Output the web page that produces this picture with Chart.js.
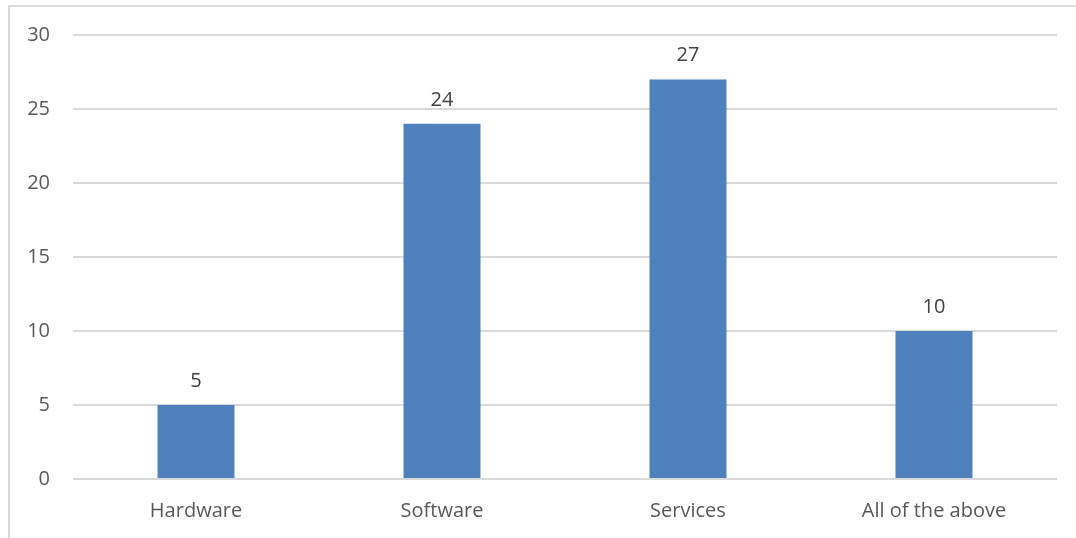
<!DOCTYPE html>
<html>
<head>
<meta charset="utf-8">
<script src="https://cdn.jsdelivr.net/npm/chart.js@4"></script>
<style>
  html, body { margin: 0; padding: 0; background: #fff; overflow: hidden; }
  #wrap { position: relative; width: 1076px; height: 538px; }
  #frame { position: absolute; left: 8px; top: 5px; width: 1200px; height: 700px; border: 2px solid #d9d9d9; box-sizing: border-box; pointer-events: none; }
</style>
</head>
<body>
<div id="wrap">
  <div id="frame"></div>
  <canvas id="myChart" width="1076" height="538"></canvas>
</div>
<script>
let categories = ['Hardware', 'Software', 'Services', 'All of the above']
let counts = [5, 24, 27, 10]
let yTicks = [0, 5, 10, 15, 20, 25, 30]

let textColor = '#595959'
let fontFamily = "'Open Sans', 'Noto Sans', sans-serif"

// writes each bar's value just above it
let valueLabels = {
  id: 'valueLabels',
  afterDatasetsDraw(chart) {
    let ctx = chart.ctx
    ctx.save()
    ctx.fillStyle = '#404040'
    ctx.font = '20px ' + fontFamily
    ctx.textAlign = 'center'
    ctx.textBaseline = 'alphabetic'
    chart.getDatasetMeta(0).data.forEach((bar, i) => {
      ctx.fillText(String(counts[i]), bar.x, bar.y - 18)
    })
    ctx.restore()
  },
}

let myChart = document.getElementById('myChart').getContext('2d')

let chart = new Chart(myChart, {
  type: 'bar',
  data: {
    labels: categories,
    datasets: [
      {
        data: counts,
        backgroundColor: '#4f81bd',
        barPercentage: 0.313,
        categoryPercentage: 1,
      },
    ],
  },
  plugins: [valueLabels],
  options: {
    responsive: false,
    animation: false,
    layout: {
      padding: { left: 0, top: 34, right: 19, bottom: 0 },
    },
    plugins: {
      legend: { display: false },
      tooltip: { enabled: false },
    },
    scales: {
      x: {
        grid: { display: false },
        border: { display: false },
        ticks: {
          color: textColor,
          font: { family: fontFamily, size: 20 },
          padding: 12,
          maxRotation: 0,
        },
        afterFit(axis) {
          axis.height = 59
        },
      },
      y: {
        min: 0,
        max: 30,
        afterBuildTicks(axis) {
          axis.ticks = yTicks.map((v) => ({ value: v }))
        },
        grid: { color: '#d9d9d9', lineWidth: 2, drawTicks: false },
        border: { display: false },
        ticks: {
          color: textColor,
          font: { family: fontFamily, size: 20 },
          padding: 23,
        },
        afterFit(axis) {
          axis.width = 73
        },
      },
    },
  },
})
</script>
</body>
</html>
